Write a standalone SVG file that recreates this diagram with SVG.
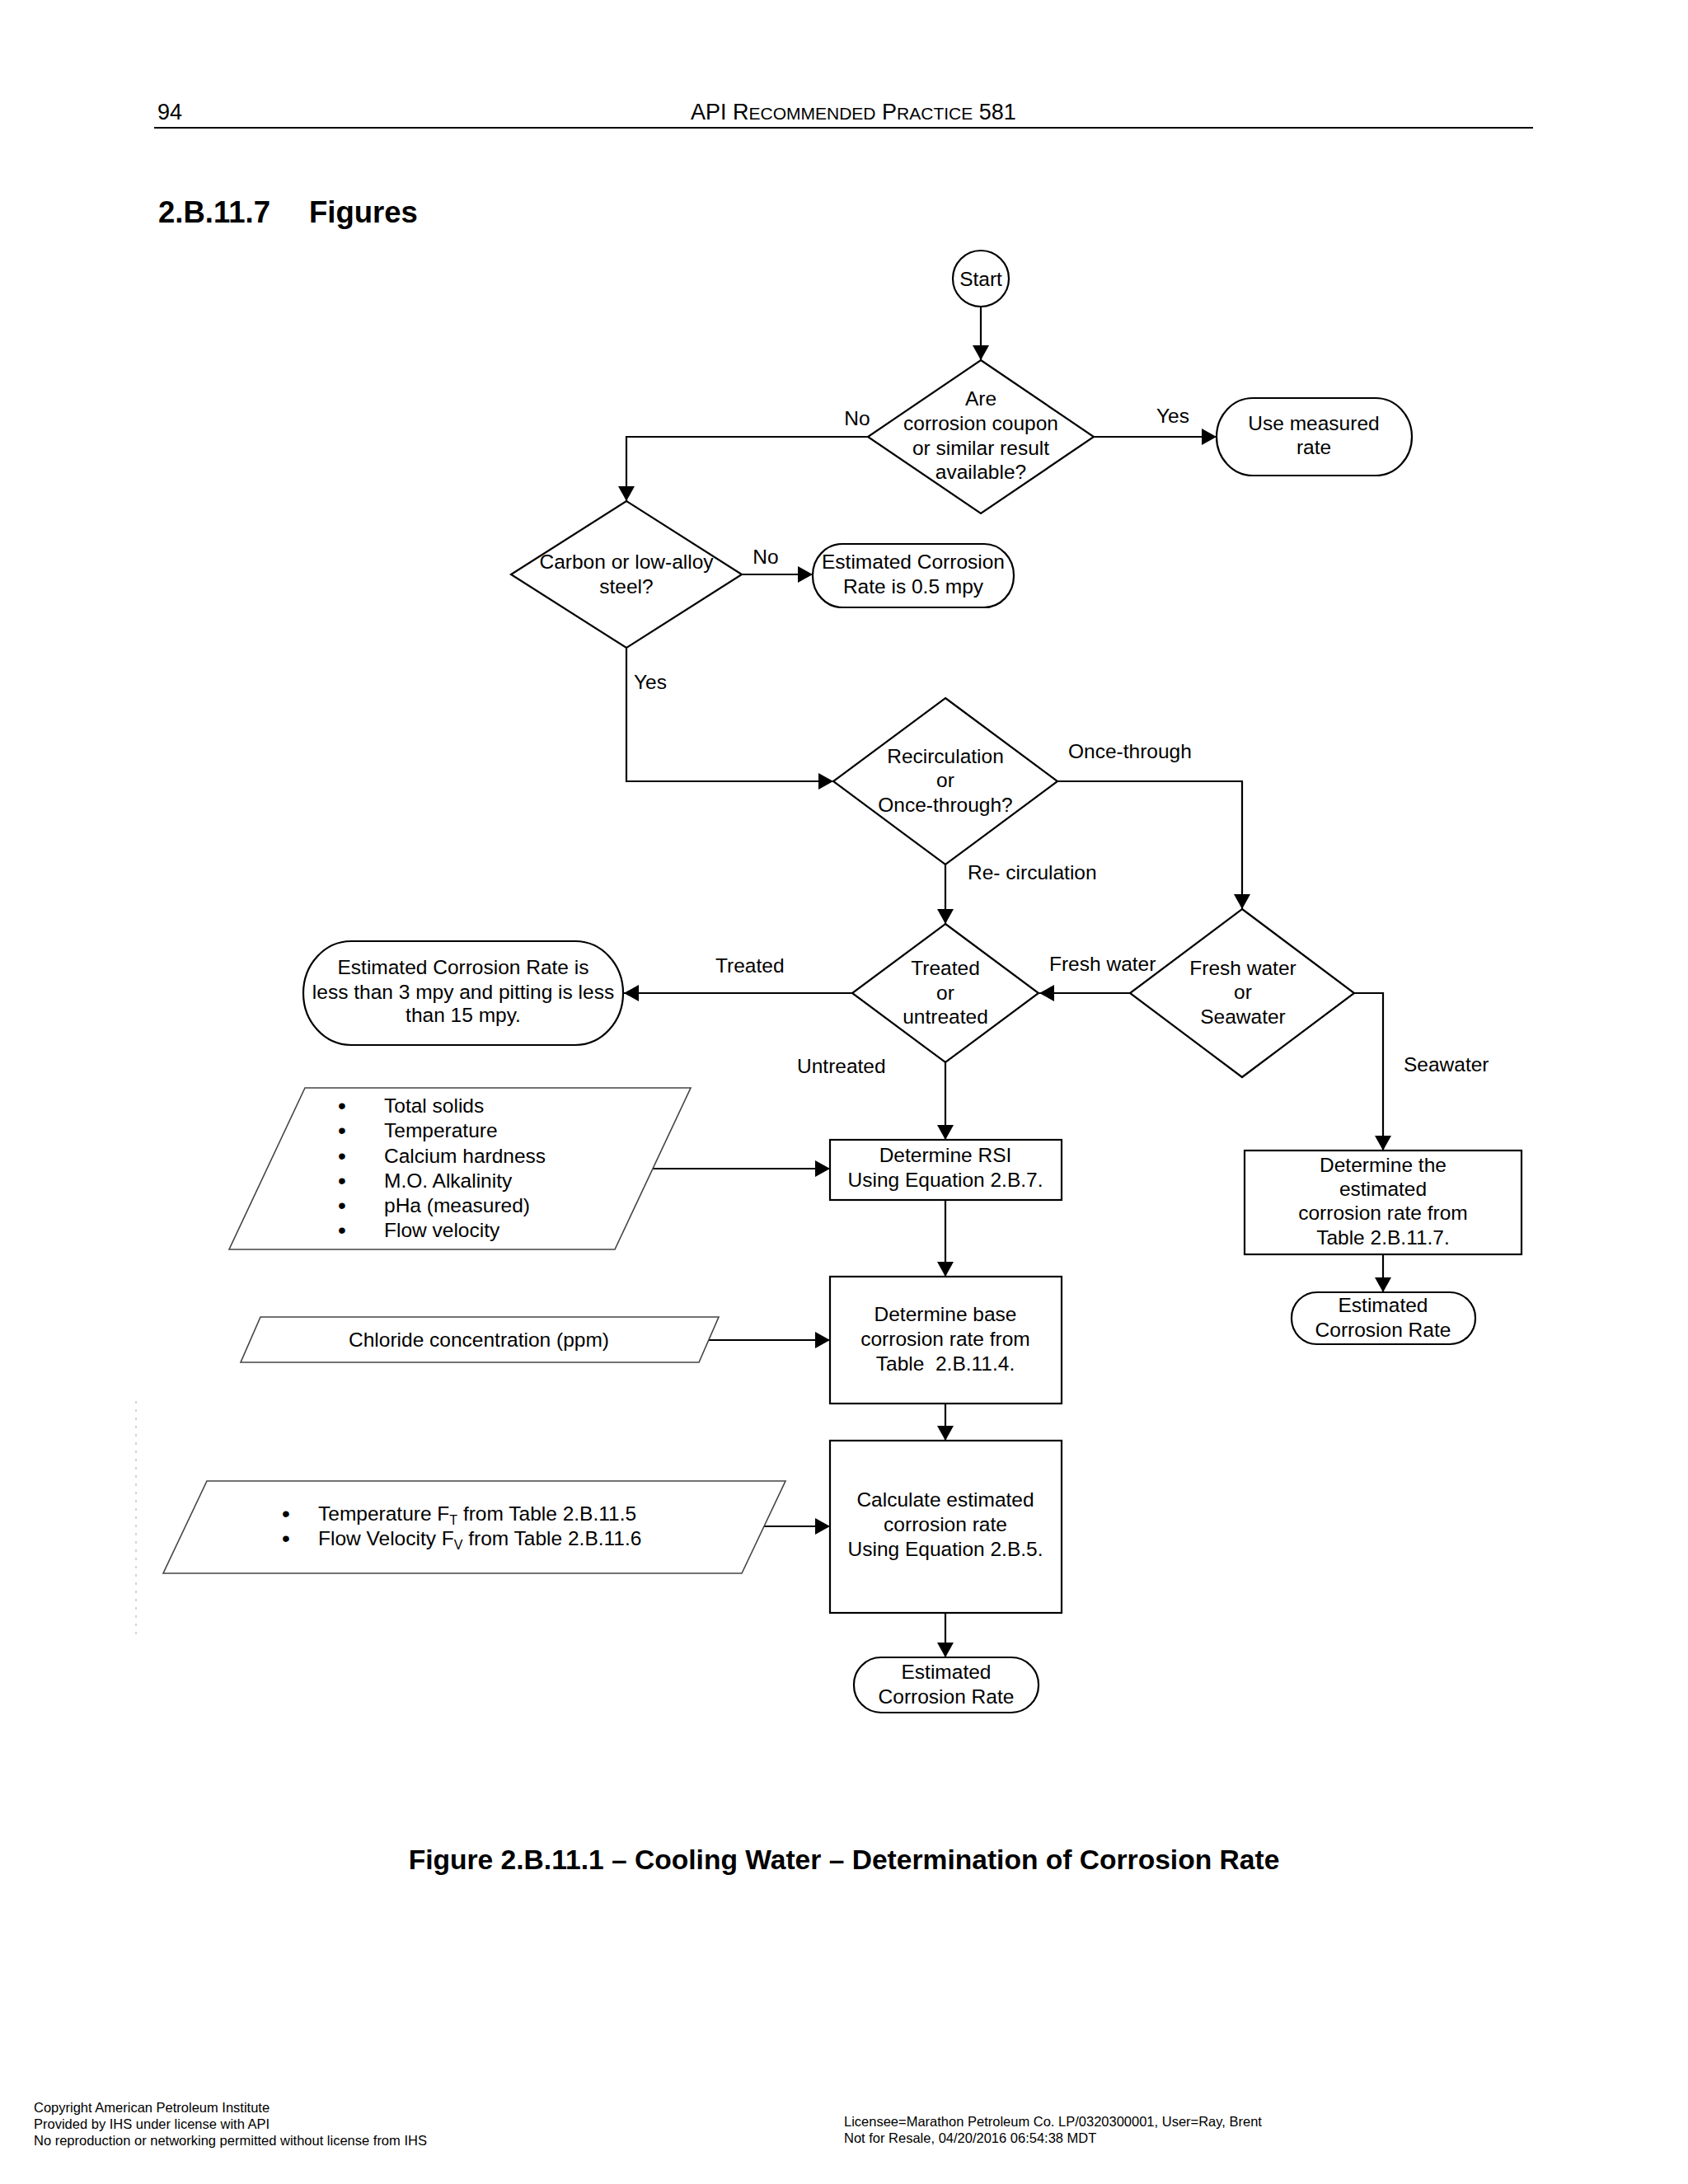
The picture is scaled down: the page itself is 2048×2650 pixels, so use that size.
<svg xmlns="http://www.w3.org/2000/svg" width="2048" height="2650" viewBox="0 0 2048 2650">
<defs>
<marker id="arr" viewBox="0 0 18 20" refX="18" refY="10" markerWidth="18" markerHeight="20" markerUnits="userSpaceOnUse" orient="auto">
<path d="M0,0 L18,10 L0,20 Z" fill="#000"/>
</marker>
</defs>
<style>
text{font-family:"Liberation Sans",Arial,sans-serif;fill:#000}
.t{font-size:24.5px;text-anchor:middle}
.l{font-size:24.5px}
.b{font-size:28px;text-anchor:middle}
.shape{fill:#fff;stroke:#000;stroke-width:2.2}
.io{fill:#fff;stroke:#444;stroke-width:1.6}
.conn{fill:none;stroke:#000;stroke-width:2.2;marker-end:url(#arr)}
.foot{font-size:16.5px}
</style>
<rect width="2048" height="2650" fill="#fff"/>

<g id="page-header">
<text x="191" y="145" style="font-size:27px">94</text>
<text x="838" y="145" style="font-size:27px">API R<tspan style="font-size:21px">ECOMMENDED</tspan> P<tspan style="font-size:21px">RACTICE</tspan> 581</text>
<line x1="187" y1="155" x2="1860" y2="155" stroke="#000" stroke-width="2.2"/>
<text x="192" y="270" style="font-size:36.5px;font-weight:bold">2.B.11.7</text>
<text x="375" y="270" style="font-size:36.5px;font-weight:bold">Figures</text>
</g>

<g id="connectors">
<path class="conn" d="M1190,372 L1190,437"/>
<path class="conn" d="M1327,530 L1476,530"/>
<path class="conn" d="M1053,530 L760,530 L760,608"/>
<path class="conn" d="M900,697 L986,697"/>
<path class="conn" d="M760,786 L760,948 L1011,948"/>
<path class="conn" d="M1283,948 L1507,948 L1507,1103"/>
<path class="conn" d="M1147,1049 L1147,1121"/>
<path class="conn" d="M1371,1205 L1261,1205"/>
<path class="conn" d="M1034,1205 L757,1205"/>
<path class="conn" d="M1643,1205 L1678,1205 L1678,1396"/>
<path class="conn" d="M1147,1289 L1147,1383"/>
<path class="conn" d="M791,1418 L1007,1418"/>
<path class="conn" d="M1147,1456 L1147,1549"/>
<path class="conn" d="M860,1626 L1007,1626"/>
<path class="conn" d="M1147,1703 L1147,1748"/>
<path class="conn" d="M925,1852 L1007,1852"/>
<path class="conn" d="M1147,1957 L1147,2011"/>
<path class="conn" d="M1678,1522 L1678,1568"/>
<text class="l" x="1040" y="516" text-anchor="middle">No</text>
<text class="l" x="1423" y="513" text-anchor="middle">Yes</text>
<text class="l" x="929" y="684" text-anchor="middle">No</text>
<text class="l" x="769" y="836">Yes</text>
<text class="l" x="1296" y="920">Once-through</text>
<text class="l" x="1174" y="1067">Re- circulation</text>
<text class="l" x="1273" y="1178">Fresh water</text>
<text class="l" x="868" y="1180">Treated</text>
<text class="l" x="967" y="1302">Untreated</text>
<text class="l" x="1703" y="1300">Seawater</text>
</g>

<g id="start">
<ellipse class="shape" cx="1190" cy="338" rx="34" ry="34"/>
<text class="t" x="1190" y="347">Start</text>
</g>

<g id="d-coupon">
<polygon class="shape" points="1190,437 1327,530 1190,623 1053,530"/>
<text class="t" x="1190" y="492">Are</text>
<text class="t" x="1190" y="522">corrosion coupon</text>
<text class="t" x="1190" y="552">or similar result</text>
<text class="t" x="1190" y="581">available?</text>
</g>

<g id="use-measured">
<rect class="shape" x="1476" y="483" width="237" height="94" rx="44" ry="47"/>
<text class="t" x="1594" y="522">Use measured</text>
<text class="t" x="1594" y="551">rate</text>
</g>

<g id="d-carbon">
<polygon class="shape" points="760,608 900,697 760,786 620,697"/>
<text class="t" x="760" y="690">Carbon or low-alloy</text>
<text class="t" x="760" y="720">steel?</text>
</g>

<g id="est-05">
<rect class="shape" x="986" y="660" width="244" height="77" rx="36" ry="38"/>
<text class="t" x="1108" y="690">Estimated Corrosion</text>
<text class="t" x="1108" y="720">Rate is 0.5 mpy</text>
</g>

<g id="d-recirc">
<polygon class="shape" points="1147,847 1283,948 1147,1049 1011,948"/>
<text class="t" x="1147" y="926">Recirculation</text>
<text class="t" x="1147" y="955">or</text>
<text class="t" x="1147" y="985">Once-through?</text>
</g>

<g id="d-treated">
<polygon class="shape" points="1147,1121 1260,1205 1147,1289 1034,1205"/>
<text class="t" x="1147" y="1183">Treated</text>
<text class="t" x="1147" y="1213">or</text>
<text class="t" x="1147" y="1242">untreated</text>
</g>

<g id="d-fresh">
<polygon class="shape" points="1507,1103 1643,1205 1507,1307 1371,1205"/>
<text class="t" x="1508" y="1183">Fresh water</text>
<text class="t" x="1508" y="1212">or</text>
<text class="t" x="1508" y="1242">Seawater</text>
</g>

<g id="est-treated">
<rect class="shape" x="368" y="1142" width="388" height="126" rx="58" ry="63"/>
<text class="t" x="562" y="1182">Estimated Corrosion Rate is</text>
<text class="t" x="562" y="1212">less than 3 mpy and pitting is less</text>
<text class="t" x="562" y="1240">than 15 mpy.</text>
</g>

<g id="sea-box">
<rect class="shape" x="1510" y="1396" width="336" height="126"/>
<text class="t" x="1678" y="1422">Determine the</text>
<text class="t" x="1678" y="1451">estimated</text>
<text class="t" x="1678" y="1480">corrosion rate from</text>
<text class="t" x="1678" y="1510">Table 2.B.11.7.</text>
</g>

<g id="sea-result">
<rect class="shape" x="1567" y="1568" width="223" height="63" rx="31" ry="31"/>
<text class="t" x="1678" y="1592">Estimated</text>
<text class="t" x="1678" y="1622">Corrosion Rate</text>
</g>

<g id="input-rsi">
<polygon class="io" points="370,1320 838,1320 746,1516 278,1516"/>
<text class="b" x="415" y="1351">•</text><text class="l" x="466" y="1350">Total solids</text>
<text class="b" x="415" y="1381">•</text><text class="l" x="466" y="1380">Temperature</text>
<text class="b" x="415" y="1412">•</text><text class="l" x="466" y="1411">Calcium hardness</text>
<text class="b" x="415" y="1442">•</text><text class="l" x="466" y="1441">M.O. Alkalinity</text>
<text class="b" x="415" y="1472">•</text><text class="l" x="466" y="1471">pHa (measured)</text>
<text class="b" x="415" y="1502">•</text><text class="l" x="466" y="1501">Flow velocity</text>
</g>

<g id="rsi">
<rect class="shape" x="1007" y="1383" width="281" height="73"/>
<text class="t" x="1147" y="1410">Determine RSI</text>
<text class="t" x="1147" y="1440">Using Equation 2.B.7.</text>
</g>

<g id="input-chloride">
<polygon class="io" points="316,1598 872,1598 848,1653 292,1653"/>
<text class="t" x="581" y="1634">Chloride concentration (ppm)</text>
</g>

<g id="base-rate">
<rect class="shape" x="1007" y="1549" width="281" height="154"/>
<text class="t" x="1147" y="1603">Determine base</text>
<text class="t" x="1147" y="1633">corrosion rate from</text>
<text class="t" x="1147" y="1663" xml:space="preserve">Table  2.B.11.4.</text>
</g>

<g id="input-factors">
<polygon class="io" points="251,1797 953,1797 900,1909 198,1909"/>
<text class="b" x="347" y="1846">•</text><text class="l" x="386" y="1845">Temperature F<tspan style="font-size:16px" dy="5">T</tspan><tspan dy="-5"> from Table 2.B.11.5</tspan></text>
<text class="b" x="347" y="1876">•</text><text class="l" x="386" y="1875">Flow Velocity F<tspan style="font-size:16px" dy="5">V</tspan><tspan dy="-5"> from Table 2.B.11.6</tspan></text>
</g>

<g id="calc">
<rect class="shape" x="1007" y="1748" width="281" height="209"/>
<text class="t" x="1147" y="1828">Calculate estimated</text>
<text class="t" x="1147" y="1858">corrosion rate</text>
<text class="t" x="1147" y="1888">Using Equation 2.B.5.</text>
</g>

<g id="final-result">
<rect class="shape" x="1036" y="2011" width="224" height="67" rx="33" ry="33"/>
<text class="t" x="1148" y="2037">Estimated</text>
<text class="t" x="1148" y="2067">Corrosion Rate</text>
</g>

<line x1="165" y1="1700" x2="165" y2="1990" stroke="#aaa" stroke-width="1" stroke-dasharray="3 7"/>

<g id="caption">
<text x="1024" y="2268" text-anchor="middle" style="font-size:33.6px;font-weight:bold">Figure 2.B.11.1 – Cooling Water – Determination of Corrosion Rate</text>
</g>

<g id="footer">
<text class="foot" x="41" y="2563">Copyright American Petroleum Institute</text>
<text class="foot" x="41" y="2583">Provided by IHS under license with API</text>
<text class="foot" x="41" y="2603">No reproduction or networking permitted without license from IHS</text>
<text class="foot" x="1024" y="2580">Licensee=Marathon Petroleum Co. LP/0320300001, User=Ray, Brent</text>
<text class="foot" x="1024" y="2600">Not for Resale, 04/20/2016 06:54:38 MDT</text>
</g>
</svg>
